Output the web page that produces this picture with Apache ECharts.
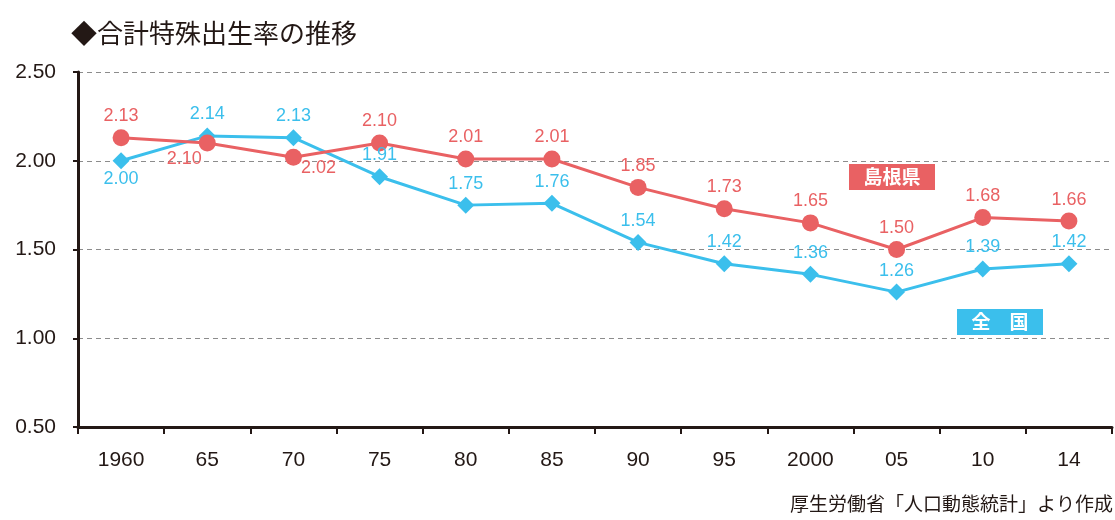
<!DOCTYPE html>
<html>
<head>
<meta charset="utf-8">
<script src="https://cdn.jsdelivr.net/npm/echarts@6/dist/echarts.min.js"></script>
<style>
  html, body { margin: 0; padding: 0; background: #fff; }
  #chart { width: 1115px; height: 520px; }
</style>
</head>
<body>
<div id="chart"></div>
<script>
const years = ['1960', '65', '70', '75', '80', '85', '90', '95', '2000', '05', '10', '14'];
const shimane = [2.13, 2.10, 2.02, 2.10, 2.01, 2.01, 1.85, 1.73, 1.65, 1.50, 1.68, 1.66];
const zenkoku = [2.00, 2.14, 2.13, 1.91, 1.75, 1.76, 1.54, 1.42, 1.36, 1.26, 1.39, 1.42];

const RED = '#e96163';
const BLUE = '#3bbfec';
const INK = '#231815';
const FONT = '"Liberation Sans", Arial, sans-serif';
const JP = '"Noto Sans CJK JP", sans-serif';

// a few labels sit off the default spot to avoid overlap
const redLabelFix = {
  1: { position: 'bottom', offset: [-23, -5] },
  2: { position: 'bottom', offset: [25, -11] }
};
const blueLabelFix = {
  0: { position: 'bottom', offset: [0, -3] }
};

function withLabels(vals, fix) {
  return vals.map((v, i) => fix[i] ? { value: v, label: fix[i] } : v);
}

const chart = echarts.init(document.getElementById('chart'));

chart.setOption({
  animation: false,
  title: {
    text: '◆合計特殊出生率の推移',
    left: 66,
    top: 15,
    textStyle: { fontFamily: JP, fontSize: 26, fontWeight: 'normal', color: INK }
  },
  grid: { left: 78, right: 3, top: 72, bottom: 93 },
  xAxis: {
    type: 'category',
    data: years,
    boundaryGap: true,
    axisLine: { lineStyle: { color: INK, width: 3 } },
    axisTick: { show: true, length: 7, lineStyle: { color: INK, width: 2 } },
    axisLabel: { margin: 23, fontFamily: FONT, fontSize: 21, color: INK }
  },
  yAxis: {
    type: 'value',
    min: 0.5,
    max: 2.5,
    interval: 0.5,
    axisLine: { show: true, lineStyle: { color: INK, width: 3 } },
    axisTick: { show: true, length: 5, lineStyle: { color: INK, width: 2 } },
    axisLabel: {
      margin: 22,
      fontFamily: FONT,
      fontSize: 21,
      color: INK,
      formatter: v => v.toFixed(2)
    },
    splitLine: { lineStyle: { color: '#8c8c8c', type: [5, 4], width: 1 } }
  },
  series: [
    {
      name: '全国',
      type: 'line',
      data: withLabels(zenkoku, blueLabelFix),
      symbol: 'diamond',
      symbolSize: 17,
      lineStyle: { color: BLUE, width: 3 },
      itemStyle: { color: BLUE },
      label: {
        show: true,
        position: 'top',
        distance: 4,
        fontFamily: FONT,
        fontSize: 18,
        color: BLUE,
        formatter: p => p.value.toFixed(2)
      }
    },
    {
      name: '島根県',
      type: 'line',
      data: withLabels(shimane, redLabelFix),
      symbol: 'circle',
      symbolSize: 17,
      lineStyle: { color: RED, width: 3 },
      itemStyle: { color: RED },
      label: {
        show: true,
        position: 'top',
        distance: 4,
        fontFamily: FONT,
        fontSize: 18,
        color: RED,
        formatter: p => p.value.toFixed(2)
      }
    }
  ],
  graphic: [
    {
      type: 'group',
      left: 849,
      top: 164,
      children: [
        { type: 'rect', shape: { x: 0, y: 0, width: 86, height: 26 }, style: { fill: RED } },
        {
          type: 'text',
          style: {
            x: 43, y: 13, text: '島根県', align: 'center', verticalAlign: 'middle',
            fill: '#fff', font: 'bold 19px ' + JP
          }
        }
      ]
    },
    {
      type: 'group',
      left: 957,
      top: 309,
      children: [
        { type: 'rect', shape: { x: 0, y: 0, width: 86, height: 26 }, style: { fill: BLUE } },
        {
          type: 'text',
          style: {
            x: 43, y: 13, text: '全　国', align: 'center', verticalAlign: 'middle',
            fill: '#fff', font: 'bold 19px ' + JP
          }
        }
      ]
    },
    {
      type: 'text',
      right: 2,
      top: 494,
      style: {
        text: '厚生労働省「人口動態統計」より作成',
        fill: INK,
        font: '19px ' + JP
      }
    }
  ]
});
</script>
</body>
</html>
